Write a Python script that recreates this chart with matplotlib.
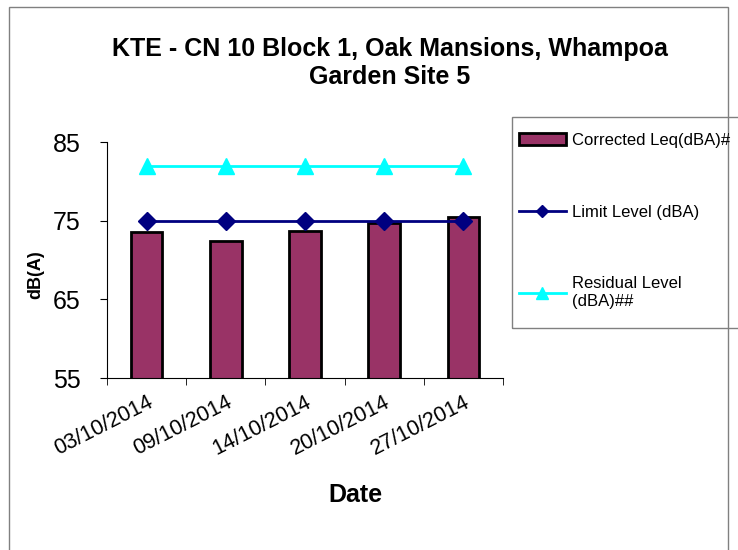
import matplotlib.pyplot as plt
from matplotlib.patches import Rectangle

# =====================================
# DATA
# =====================================

dates = ["03/10/2014", "09/10/2014", "14/10/2014", "20/10/2014", "27/10/2014"]
corrected_leq = [73.5, 72.4, 73.7, 74.7, 75.5]
limit_level = [75, 75, 75, 75, 75]
residual_level = [82, 82, 82, 82, 82]

plt.rcParams["font.family"] = ["Liberation Sans", "DejaVu Sans"]

# =====================================
# FIGURE
# =====================================

fig = plt.figure(figsize=(7.38, 5.5), dpi=100)
ax = fig.add_axes([0.145, 0.3127, 0.5366, 0.4291])

# chart area border
fig.patches.append(Rectangle((9 / 738, -0.05), 719 / 738, 1.05 - 7 / 550,
                             transform=fig.transFigure, fill=False,
                             edgecolor="#808080", linewidth=1))

# legend border
fig.patches.append(Rectangle((512 / 738, 1 - 328 / 550), 240 / 738, 211 / 550,
                             transform=fig.transFigure, fill=False,
                             edgecolor="#808080", linewidth=1))

x = list(range(len(dates)))

bars = ax.bar(x, corrected_leq, width=0.4, bottom=0, color="#993366",
              edgecolor="black", linewidth=2, zorder=2)
limit_line, = ax.plot(x, limit_level, color="#000080", marker="D",
                      markersize=9, linewidth=2, zorder=3)
resid_line, = ax.plot(x, residual_level, color="#00FFFF", marker="^",
                      markersize=12, linewidth=2, zorder=3)

ax.set_xlim(-0.5, 4.5)
ax.set_ylim(55, 85)
ax.set_yticks([55, 65, 75, 85])
ax.tick_params(axis="y", labelsize=18, length=5, direction="out", pad=14)

ax.set_xticks(x)
ax.set_xticklabels(dates, rotation=27, ha="right", rotation_mode="anchor",
                   fontsize=15.5)
ax.set_xticks([i - 0.5 for i in range(len(dates) + 1)], minor=True)
ax.tick_params(axis="x", which="major", length=0, pad=10)
ax.tick_params(axis="x", which="minor", length=5, direction="out")

for side in ["top", "right"]:
    ax.spines[side].set_visible(False)

fig.text(355 / 738, 1 - 495 / 550, "Date", ha="center", va="center",
         fontsize=18, fontweight="bold")
fig.text(36 / 738, 1 - 275 / 550, "dB(A)", ha="center", va="center",
         rotation=90, fontsize=13, fontweight="bold")

fig.text(390 / 738, 1 - 37 / 550,
         "KTE - CN 10 Block 1, Oak Mansions, Whampoa\nGarden Site 5",
         ha="center", va="top", fontsize=18, fontweight="bold",
         linespacing=1.2)

leg = fig.legend([bars, limit_line, resid_line],
                 ["Corrected Leq(dBA)#", "Limit Level (dBA)",
                  "Residual Level\n(dBA)##"],
                 loc="upper left", bbox_to_anchor=(519 / 738, 1 - 133 / 550),
                 borderaxespad=0, fontsize=12, frameon=False,
                 labelspacing=3.4, handlelength=2.8, borderpad=0,
                 handletextpad=0.4, markerscale=0.7)

plt.savefig("out.png", dpi=100)
